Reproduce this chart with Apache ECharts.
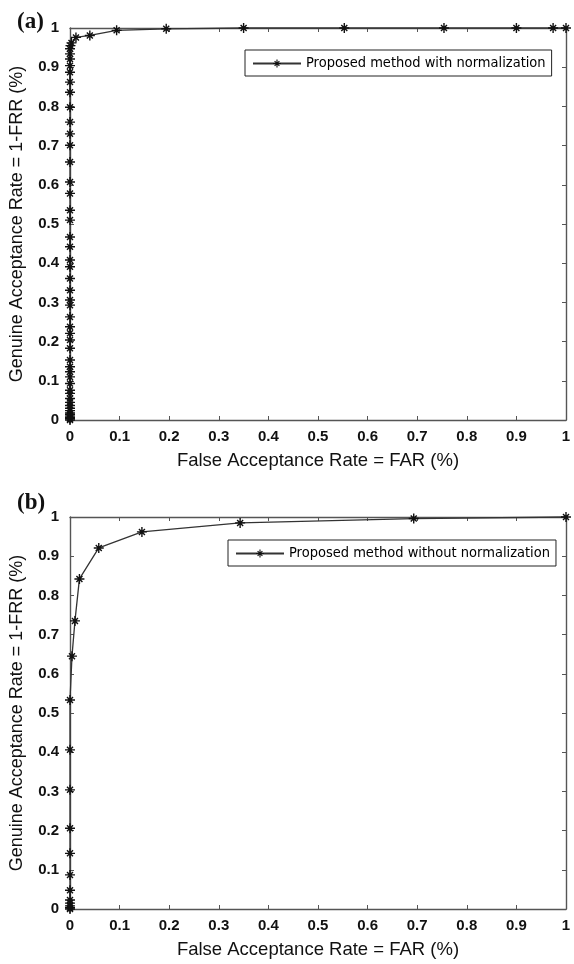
<!DOCTYPE html>
<html>
<head>
<meta charset="utf-8">
<script src="https://cdn.jsdelivr.net/npm/echarts@6/dist/echarts.min.js"></script>
<style>
  html, body { margin: 0; padding: 0; background: #fff; }
  #chart { width: 574px; height: 964px; }
</style>
</head>
<body>
<div id="chart"></div>
<script>
// (a) with normalization: FAR / GAR pairs
const farA = [0, 0, 0, 0, 0, 0, 0, 0, 0, 0, 0, 0, 0, 0, 0, 0, 0, 0, 0, 0, 0, 0, 0, 0, 0, 0, 0, 0, 0, 0, 0, 0, 0, 0, 0, 0, 0, 0, 0, 0, 0, 0, 0, 0, 0, 0, 0,
  0.001, 0.003, 0.012, 0.04, 0.094, 0.194, 0.35, 0.553, 0.754, 0.9, 0.974, 1];
const garA = [0, 0.003, 0.006, 0.01, 0.014, 0.018, 0.024, 0.03, 0.037, 0.045, 0.055, 0.068, 0.076, 0.093, 0.11, 0.123, 0.136, 0.153, 0.183, 0.204,
  0.221, 0.238, 0.263, 0.293, 0.306, 0.331, 0.361, 0.391, 0.408, 0.442, 0.467, 0.51, 0.535, 0.578, 0.607, 0.658, 0.701, 0.73, 0.76, 0.798,
  0.836, 0.862, 0.887, 0.904, 0.921, 0.934, 0.947,
  0.955, 0.962, 0.976, 0.981, 0.994, 0.998, 1, 1, 1, 1, 1, 1];

// (b) without normalization
const farB = [0, 0, 0, 0, 0, 0, 0, 0, 0, 0, 0, 0, 0.004, 0.01, 0.019, 0.058, 0.145, 0.343, 0.693, 1];
const garB = [0, 0.003, 0.008, 0.015, 0.023, 0.048, 0.087, 0.142, 0.206, 0.304, 0.406, 0.533, 0.645, 0.735, 0.842, 0.921, 0.962, 0.985, 0.996, 1];

const nameA = 'Proposed method with normalization';
const nameB = 'Proposed method without normalization';
const xTitle = 'False Acceptance Rate = FAR (%)';
const yTitle = 'Genuine Acceptance Rate = 1-FRR (%)';

const pairs = (xs, ys) => xs.map((x, i) => [x, ys[i]]);

// asterisk marker like matlab '*'
const star = 'path://M-0.7,-5L0.7,-5L0.7,5L-0.7,5Z M-5,-0.7L5,-0.7L5,0.7L-5,0.7Z M-3.5,-2.5L-2.5,-3.5L3.5,2.5L2.5,3.5Z M2.5,-3.5L3.5,-2.5L-2.5,3.5L-3.5,2.5Z';

const axisCol = '#555';
const lblFont = { color: '#111', fontSize: 15, fontWeight: 'bold', fontFamily: 'Liberation Sans, Arial, sans-serif' };

function xAx(gi, main) {
  return {
    type: 'value', gridIndex: gi, min: 0, max: 1, interval: 0.1,
    position: main ? 'bottom' : 'top',
    name: main ? xTitle : '', nameLocation: 'middle', nameGap: 31,
    nameTextStyle: { color: '#111', fontSize: 18.5, fontFamily: 'Liberation Sans, Arial, sans-serif' },
    axisLine: { show: true, onZero: false, lineStyle: { color: axisCol, width: 1.4 } },
    axisTick: { show: true, inside: true, length: 4, lineStyle: { color: axisCol } },
    axisLabel: { show: main, margin: 9, ...lblFont },
    splitLine: { show: false }
  };
}
function yAx(gi, main) {
  return {
    type: 'value', gridIndex: gi, min: 0, max: 1, interval: 0.1,
    position: main ? 'left' : 'right',
    name: main ? yTitle : '', nameLocation: 'middle', nameGap: 44,
    nameTextStyle: { color: '#111', fontSize: 18, fontFamily: 'Liberation Sans, Arial, sans-serif' },
    axisLine: { show: true, onZero: false, lineStyle: { color: axisCol, width: 1.4 } },
    axisTick: { show: true, inside: true, length: 4, lineStyle: { color: axisCol } },
    axisLabel: { show: main, margin: 11, ...lblFont },
    splitLine: { show: false }
  };
}
function ser(name, xi, data) {
  return {
    name: name, type: 'line', xAxisIndex: xi, yAxisIndex: xi,
    data: data, clip: false,
    symbol: star, symbolSize: 10, showSymbol: true,
    lineStyle: { color: '#333', width: 1.3 },
    itemStyle: { color: '#111' }
  };
}
function leg(name, left, top) {
  return {
    data: [name], left: left, top: top, orient: 'horizontal',
    backgroundColor: '#fff', borderColor: '#222', borderWidth: 1,
    padding: [6, 6, 5, 7], itemWidth: 48, itemHeight: 10, itemGap: 0,
    textStyle: { color: '#000', fontSize: 14.5, fontFamily: 'DejaVu Sans Condensed, sans-serif' }
  };
}

const chart = echarts.init(document.getElementById('chart'), null, { renderer: 'canvas' });
chart.setOption({
  animation: false,
  backgroundColor: '#fff',
  title: [
    { text: '(a)', left: 12, top: 6, textStyle: { fontFamily: 'Liberation Serif, Times New Roman, serif', fontWeight: 'bold', fontSize: 23, color: '#111' } },
    { text: '(b)', left: 12, top: 487, textStyle: { fontFamily: 'Liberation Serif, Times New Roman, serif', fontWeight: 'bold', fontSize: 23, color: '#111' } }
  ],
  grid: [
    { left: 67, right: 8, top: 28, height: 392 },
    { left: 67, right: 8, top: 517, height: 392 }
  ],
  xAxis: [xAx(0, true), xAx(1, true), xAx(0, false), xAx(1, false)],
  yAxis: [yAx(0, true), yAx(1, true), yAx(0, false), yAx(1, false)],
  legend: [leg(nameA, 245, 50), leg(nameB, 228, 540)],
  series: [
    ser(nameA, 0, pairs(farA, garA)),
    ser(nameB, 1, pairs(farB, garB))
  ]
});
</script>
</body>
</html>
